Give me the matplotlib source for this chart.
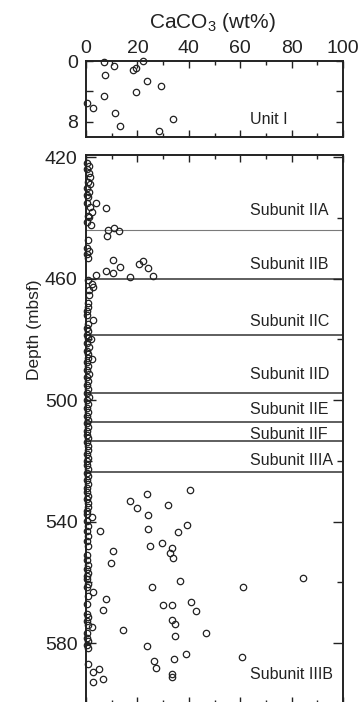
"""CaCO3 (wt%) vs depth — Unit I and Subunits IIA–IIIB."""

import matplotlib
matplotlib.use("Agg")
import matplotlib.pyplot as plt
from matplotlib.ticker import MultipleLocator, FixedLocator

plt.rcParams["font.family"] = ["Liberation Sans", "DejaVu Sans"]
plt.rcParams["mathtext.fontset"] = "custom"
plt.rcParams["mathtext.rm"] = "Liberation Sans"
plt.rcParams["mathtext.it"] = "Liberation Sans"

INK = "#222222"

# --- Unit I (top panel, 0-10 mbsf) ---
unit1_caco3 = [7.0, 11.0, 18.4, 19.3, 22.0, 7.5, 23.6, 29.2, 19.5, 7.0,
               0.5, 2.8, 11.3, 34.0, 13.2, 28.5]
unit1_depth = [0.1, 0.6, 1.2, 0.9, 0.0, 1.8, 2.6, 3.3, 4.1, 4.6,
               5.5, 6.2, 6.9, 7.6, 8.5, 9.2]

# --- Units II-III (bottom panel, 420-600 mbsf) ---
# near-zero column
col_depth = [421.8, 422.9, 424.0, 425.3, 426.6, 428.1, 428.9, 430.3, 431.4,
             432.5, 433.0, 435.2, 436.3, 439.3, 439.6, 441.3, 447.3, 449.9,
             450.9, 452.0, 453.1, 460.6, 461.6, 462.8, 463.6, 465.3, 468.1,
             469.4, 470.8, 472.0, 473.5, 474.9, 476.1, 477.3, 478.4, 479.6,
             480.0, 481.2, 482.5, 483.7, 484.9, 486.2, 486.6, 487.5, 488.8,
             490.0, 491.3, 492.5, 493.8, 495.1, 496.3, 497.5, 498.8, 500.1,
             501.3, 502.6, 503.9, 505.1, 506.4, 507.6, 508.8, 510.1, 511.3,
             512.6, 513.9, 515.1, 516.3, 517.6, 518.9, 520.1, 521.4, 522.6,
             523.9, 525.1, 526.4, 527.6, 528.9, 530.1, 531.4, 532.6, 533.9,
             535.1, 536.4, 537.6, 538.4, 539.8, 541.4, 543.1, 544.7, 546.3,
             548.0, 550.8, 552.5, 554.1, 555.7, 556.8, 557.9, 559.0, 560.4,
             561.5, 563.0, 564.3, 567.2, 570.3, 571.5, 572.7, 573.9, 574.7,
             576.6, 578.3, 579.4, 580.5, 581.6, 586.7]
col_caco3 = [0.3, 1.0, 0.5, 1.2, 1.6, 0.8, 1.5, 0.5, 1.3,
             0.3, 0.9, 0.4, 1.4, 0.6, 1.0, 0.3, 0.7, 0.5,
             1.0, 0.3, 0.6, 0.8, 2.2, 2.6, 1.0, 1.3, 0.6,
             0.9, 0.5, 0.5, 2.6, 0.9, 0.4, 0.8, 0.3, 0.7,
             1.8, 0.5, 1.0, 0.4, 0.8, 0.6, 2.3, 0.3, 0.9,
             0.5, 1.1, 0.4, 0.7, 0.3, 0.8, 0.5, 1.0, 0.4,
             0.7, 0.3, 0.9, 0.5, 0.6, 0.3, 0.8, 0.5, 0.4,
             0.9, 0.3, 0.6, 0.8, 0.4, 0.7, 0.3, 0.5, 0.9,
             0.4, 0.6, 0.3, 0.8, 0.5, 0.4, 0.7, 0.3, 0.6,
             0.9, 0.4, 0.5, 2.4, 0.3, 0.7, 0.4, 0.6, 0.3,
             0.8, 0.5, 0.3, 0.6, 0.4, 0.8, 0.3, 0.5, 0.7,
             0.4, 2.8, 0.6, 0.5, 0.4, 0.7, 0.3, 0.9, 2.4,
             0.5, 0.4, 0.7, 0.3, 0.6, 0.6]
# scattered higher values
sc_caco3 = [3.9, 7.9, 2.4, 1.8, 8.7, 10.8, 12.9, 8.3,
            10.6, 20.5, 22.3, 24.2, 13.2, 7.8, 10.6, 3.9, 17.1, 26.1,
            17.1, 20.0, 23.6, 24.2, 24.1, 24.9, 25.6, 29.4, 32.0, 33.3,
            32.7, 33.7, 35.7, 39.4, 40.5, 36.6, 84.3, 61.2, 5.4, 10.6,
            9.6, 7.8, 6.6, 29.8, 33.3, 41.0, 42.7, 33.5, 34.5, 14.3,
            46.8, 34.6, 23.6, 38.8, 34.1, 60.6, 26.6, 27.1, 33.3, 33.3,
            5.2, 2.8, 6.5, 2.8]
sc_depth = [435.0, 436.9, 437.9, 442.4, 443.9, 443.3, 444.2, 446.0,
            453.7, 455.2, 454.3, 456.4, 456.3, 457.4, 458.3, 458.8, 459.5, 459.0,
            533.2, 535.4, 531.0, 537.8, 542.3, 548.0, 561.5, 546.9, 534.5, 548.6,
            550.2, 552.1, 543.3, 541.2, 529.6, 559.5, 558.4, 561.6, 543.1, 549.7,
            553.5, 565.3, 569.0, 567.3, 567.5, 566.4, 569.5, 572.5, 573.6, 575.5,
            576.7, 577.7, 580.8, 583.5, 585.1, 584.5, 585.7, 588.2, 590.1, 591.1,
            588.6, 589.6, 591.8, 592.7]

# unit boundaries (mbsf) and labels
boundary_depth = [444.0, 460.0, 478.6, 497.8, 507.1, 513.4, 523.6]
boundary_thin = [True, False, False, False, False, False, False]
subunit_names = ["Subunit IIA", "Subunit IIB", "Subunit IIC", "Subunit IID",
                 "Subunit IIE", "Subunit IIF", "Subunit IIIA", "Subunit IIIB"]
subunit_label_depth = [437.1, 455.0, 473.6, 491.2, 502.7, 510.9, 519.2, 589.7]

depth_major = [420, 460, 500, 540, 580]
depth_minor = [440, 480, 520, 560]

W, H = 358, 702
fig = plt.figure(figsize=(W / 100, H / 100), dpi=100)
ax1 = fig.add_axes([86 / W, 1 - 137 / H, 257 / W, 76 / H])
ax2 = fig.add_axes([86 / W, -2 / H, 257 / W, 549 / H])

mk = dict(linestyle="none", marker="o", markersize=4.6, mfc="none",
          mec=INK, mew=0.9, clip_on=False)

ax1.plot(unit1_caco3, unit1_depth, **mk)
ax2.plot(col_caco3, col_depth, **mk)
ax2.plot(sc_caco3, sc_depth, **mk)

for d, thin in zip(boundary_depth, boundary_thin):
    ax2.axhline(d, color="#7a7a7a" if thin else "#333333",
                lw=0.8 if thin else 1.1, zorder=1)

for name, d in zip(subunit_names, subunit_label_depth):
    ax2.text(64, d + 0.5, name, ha="left", va="center", fontsize=11.5,
             color=INK)
ax1.text(64, 7.7, "Unit I", ha="left", va="center", fontsize=11.5,
         color=INK)

for ax in (ax1, ax2):
    ax.set_xlim(0, 100)
    for s in ax.spines.values():
        s.set_linewidth(1.4)
        s.set_color(INK)
    ax.xaxis.set_major_locator(MultipleLocator(20))
    ax.xaxis.set_minor_locator(MultipleLocator(10))
    ax.tick_params(which="both", direction="in", top=True, bottom=True,
                   left=True, right=True, color=INK, width=1.0,
                   labelsize=14, labelcolor=INK)
    ax.tick_params(which="major", length=5)
    ax.tick_params(which="minor", length=2.8)

ax1.set_ylim(10, 0)
ax1.yaxis.set_major_locator(FixedLocator([0, 4, 8]))
ax1.set_yticklabels(["0", "", "8"])
ax1.tick_params(axis="x", labeltop=True, labelbottom=False, pad=3)
ax1.tick_params(axis="y", pad=6)

ax2.set_ylim(600.0, 419.3)
ax2.yaxis.set_major_locator(FixedLocator(depth_major))
ax2.yaxis.set_minor_locator(FixedLocator(depth_minor))
ax2.tick_params(axis="y", which="major", length=7, pad=6)
ax2.tick_params(axis="y", which="minor", length=4.5)
ax2.tick_params(axis="x", labeltop=False, labelbottom=False)

fig.text(212 / W, 1 - 22 / H, r"CaCO$_3$ (wt%)", ha="center", va="center",
         fontsize=15, color=INK)
fig.text(35 / W, 1 - 330 / H, "Depth (mbsf)", ha="center", va="center",
         rotation=90, fontsize=12.5, color=INK)

fig.savefig("out.png", dpi=100)
